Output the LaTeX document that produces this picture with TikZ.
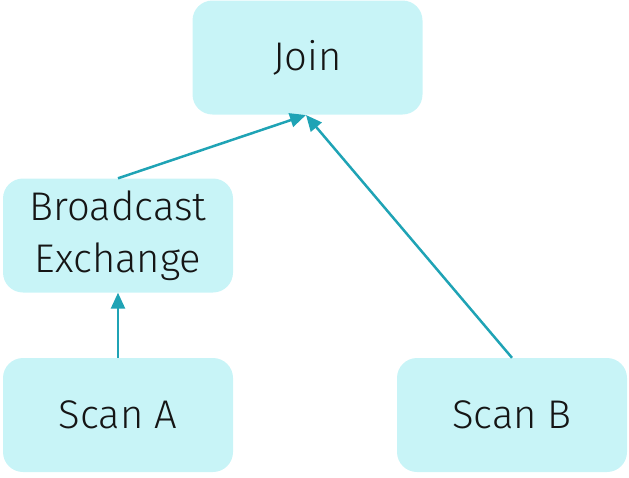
\documentclass[tikz,border=0pt]{standalone}
\usepackage{fontspec}
\setmainfont{Fira Sans}[UprightFont=* Light]
\usetikzlibrary{arrows.meta}
\definecolor{boxfill}{HTML}{C8F4F7}
\definecolor{edgecol}{HTML}{1FA3B5}
\definecolor{textcol}{HTML}{151515}
\begin{document}
\begin{tikzpicture}[x=1pt,y=-1pt,
  opbox/.style={fill=boxfill, draw=none, rounded corners=20pt, minimum width=230pt,
    minimum height=114pt, inner sep=0pt, align=center, text=textcol,
    font=\fontsize{40}{52}\selectfont},
  flow/.style={draw=edgecol, line width=2.5pt, -{Triangle[length=16pt,width=14pt]}}]
\useasboundingbox (0,0) rectangle (629,477);
\node[opbox] (join) at (307.5,57.5) {Join};
\node[opbox] (bex) at (118,235.5) {Broadcast\\Exchange};
\node[opbox] (sa) at (118,415) {Scan A};
\node[opbox] (sb) at (512,415) {Scan B};
\coordinate (jin) at (306,115);
\draw[flow] (bex.north) -- (jin);
\draw[flow] (sa.north) -- (bex.south);
\draw[flow] (sb.north) -- (jin);
\end{tikzpicture}
\end{document}
